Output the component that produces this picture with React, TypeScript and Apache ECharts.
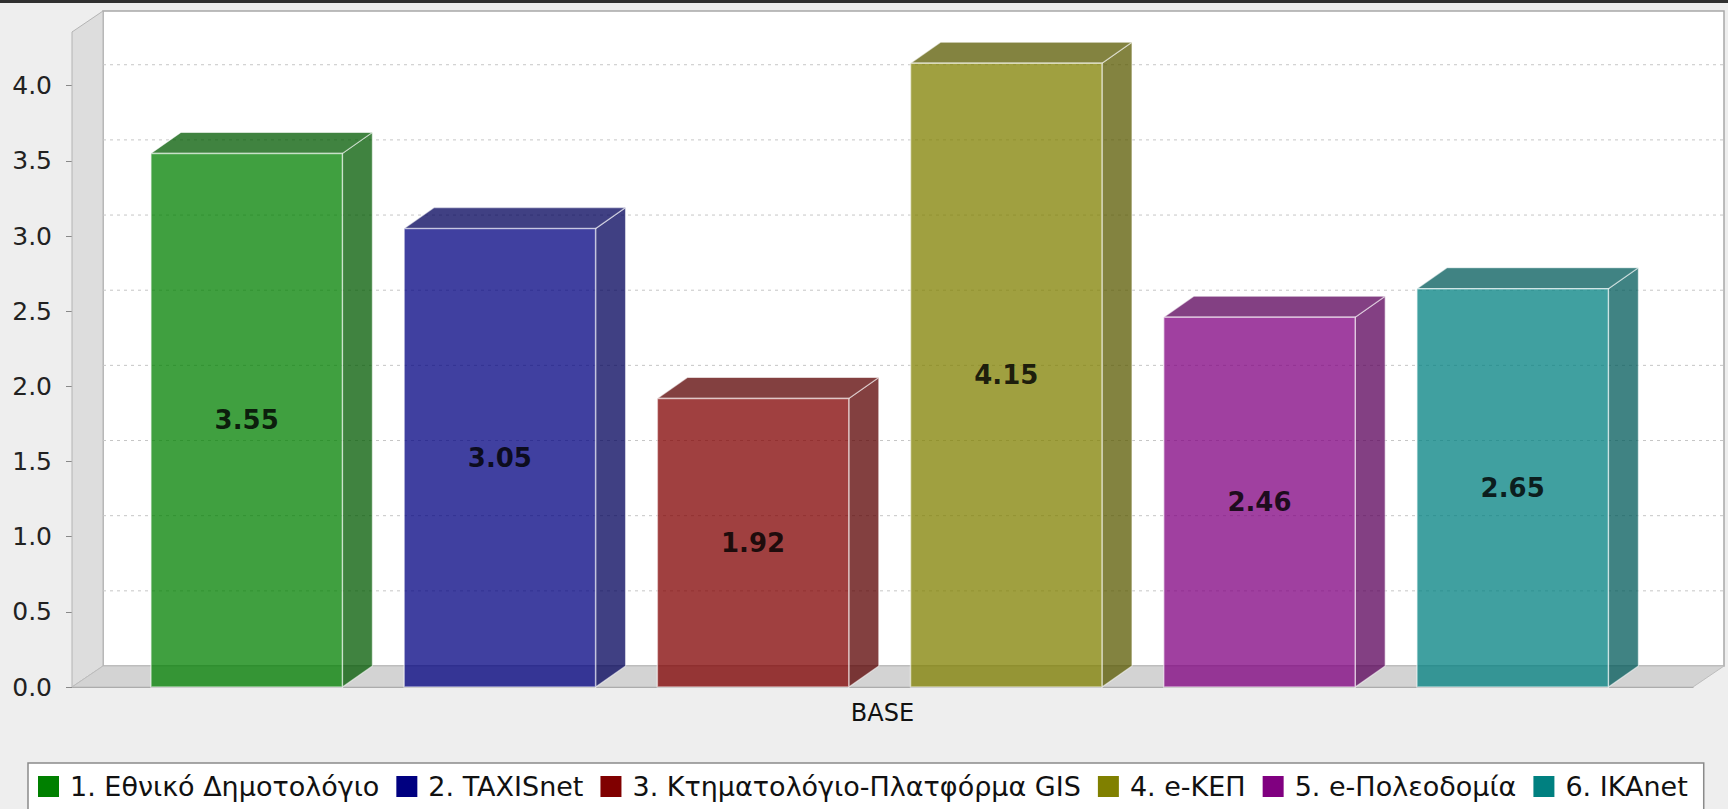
import React, { useEffect, useRef } from "react";
import * as echarts from "echarts";

// ---- data ----
const categories = ["BASE"];
const seriesNames = [
  "1. Εθνικό Δημοτολόγιο",
  "2. TAXISnet",
  "3. Κτηματολόγιο-Πλατφόρμα GIS",
  "4. e-ΚΕΠ",
  "5. e-Πολεοδομία",
  "6. IKAnet",
];
const seriesValues = [3.55, 3.05, 1.92, 4.15, 2.46, 2.65];
const seriesColors = ["#008000", "#000080", "#800000", "#808000", "#800080", "#008080"];
const yTicks = [0, 0.5, 1, 1.5, 2, 2.5, 3, 3.5, 4];
const gridValues = [0.5, 1, 1.5, 2, 2.5, 3, 3.5, 4];
const yMin = 0;
const yMax = 4.3575;

// ---- style constants ----
const BAR_DX = 30;
const BAR_DY = 21;
const WALL_DX = 31;
const WALL_DY = 21;
const FONT = '"DejaVu Sans", sans-serif';

function shade(hex: string, f: number, a: number) {
  const h = hex.replace("#", "");
  const r = Math.round(parseInt(h.slice(0, 2), 16) * f);
  const g = Math.round(parseInt(h.slice(2, 4), 16) * f);
  const b = Math.round(parseInt(h.slice(4, 6), 16) * f);
  return `rgba(${r},${g},${b},${a})`;
}

export default function App() {
  const ref = useRef<HTMLDivElement>(null);

  useEffect(() => {
    if (!ref.current) return;
    const chart = echarts.init(ref.current, null, { renderer: "svg" });

    const wallSeries: any = {
      type: "custom",
      name: "__walls",
      silent: true,
      z: 1,
      data: [[0, 0]],
      renderItem: (params: any) => {
        const cs = params.coordSys;
        const X0 = cs.x;
        const X1 = cs.x + cs.width;
        const Y0 = cs.y;
        const Y1 = cs.y + cs.height;
        return {
          type: "group",
          children: [
            {
              type: "rect",
              shape: { x: X0 + WALL_DX, y: Y0 - WALL_DY, width: X1 - X0, height: Y1 - Y0 },
              style: { fill: "#ffffff", stroke: "#a8a8a8", lineWidth: 1.5 },
            },
            {
              type: "polygon",
              shape: {
                points: [
                  [X0, Y0],
                  [X0 + WALL_DX, Y0 - WALL_DY],
                  [X0 + WALL_DX, Y1 - WALL_DY],
                  [X0, Y1],
                ],
              },
              style: { fill: "#dddddd", stroke: "#b4b4b4", lineWidth: 1 },
            },
            {
              type: "polygon",
              shape: {
                points: [
                  [X0, Y1],
                  [X0 + WALL_DX, Y1 - WALL_DY],
                  [X1 + WALL_DX, Y1 - WALL_DY],
                  [X1, Y1],
                ],
              },
              style: { fill: "#d3d3d3", stroke: "#bdbdbd", lineWidth: 1 },
            },
          ],
        };
      },
    };

    const gridSeries: any = {
      type: "custom",
      name: "__grid",
      silent: true,
      z: 2,
      data: gridValues.map((v) => [0, v]),
      renderItem: (params: any, api: any) => {
        const cs = params.coordSys;
        const y = api.coord([0, api.value(1)])[1] - WALL_DY;
        return {
          type: "line",
          shape: { x1: cs.x + WALL_DX, y1: y, x2: cs.x + cs.width + WALL_DX, y2: y },
          style: { stroke: "#c6c6c6", lineWidth: 1, lineDash: [3, 4] },
        };
      },
    };

    const barSeries = seriesNames.map((name, i) => ({
      type: "custom",
      name,
      silent: true,
      z: 5,
      itemStyle: { color: seriesColors[i] },
      data: [[0, seriesValues[i]]],
      renderItem: (params: any, api: any) => {
        const catW = api.size([1, 0])[0];
        const base = api.coord([api.value(0), 0]);
        const topP = api.coord([api.value(0), api.value(1)]);
        const margin = catW * 0.0487;
        const bw = catW * 0.1181;
        const pitch = catW * 0.1562;
        const x = base[0] - catW / 2 + margin + i * pitch;
        const y0 = base[1];
        const y1 = topP[1];
        const c = seriesColors[i];
        const edge = "rgba(255,255,255,0.55)";
        return {
          type: "group",
          children: [
            {
              type: "polygon",
              shape: {
                points: [
                  [x + bw, y1],
                  [x + bw + BAR_DX, y1 - BAR_DY],
                  [x + bw + BAR_DX, y0 - BAR_DY],
                  [x + bw, y0],
                ],
              },
              style: { fill: shade(c, 0.7, 0.75), stroke: edge, lineWidth: 1.2 },
            },
            {
              type: "polygon",
              shape: {
                points: [
                  [x, y1],
                  [x + BAR_DX, y1 - BAR_DY],
                  [x + bw + BAR_DX, y1 - BAR_DY],
                  [x + bw, y1],
                ],
              },
              style: { fill: shade(c, 0.7, 0.75), stroke: edge, lineWidth: 1.2 },
            },
            {
              type: "rect",
              shape: { x, y: y1, width: bw, height: y0 - y1 },
              style: { fill: shade(c, 1, 0.75), stroke: edge, lineWidth: 1.5 },
            },
            {
              type: "text",
              x: x + bw / 2,
              y: (y0 + y1) / 2,
              style: {
                text: api.value(1).toFixed(2),
                fill: "rgba(0,0,0,0.82)",
                fontSize: 26,
                fontWeight: "bold",
                fontFamily: FONT,
                align: "center",
                verticalAlign: "middle",
              },
            },
          ],
        };
      },
    }));

    chart.setOption({
      animation: false,
      backgroundColor: "#eeeeee",
      graphic: [
        { type: "rect", left: 0, top: 0, shape: { width: 1728, height: 3 }, style: { fill: "#303030" } },
      ],
      grid: { left: 72, right: 35, top: 32, bottom: 122, containLabel: false },
      legend: {
        data: seriesNames,
        left: 28,
        top: 763,
        icon: "rect",
        itemWidth: 21,
        itemHeight: 21,
        itemGap: 17,
        selectedMode: false,
        padding: [10, 16, 10, 10],
        backgroundColor: "#ffffff",
        borderColor: "#8a8a8a",
        borderWidth: 1.5,
        textStyle: { fontSize: 27, lineHeight: 24, fontFamily: FONT, color: "#111111", padding: [0, 0, 0, 6] },
      },
      xAxis: {
        type: "category",
        data: categories,
        axisLine: { show: true, lineStyle: { color: "#9a9a9a" } },
        axisTick: { show: false },
        axisLabel: { fontSize: 24, color: "#111111", margin: 14, fontFamily: FONT },
        splitLine: { show: false },
      },
      yAxis: {
        type: "value",
        min: yMin,
        max: yMax,
        axisLine: { show: true, lineStyle: { color: "#9a9a9a" } },
        axisTick: { show: true, length: 6, lineStyle: { color: "#888888" }, customValues: yTicks },
        axisLabel: {
          fontSize: 25,
          color: "#222222",
          margin: 20,
          fontFamily: FONT,
          customValues: yTicks,
          formatter: (v: number) => v.toFixed(1),
        },
        splitLine: { show: false },
      },
      series: [wallSeries, gridSeries, ...barSeries],
    });

    return () => chart.dispose();
  }, []);

  return (
    <div
      ref={ref}
      style={{ position: "fixed", left: 0, top: 0, width: 1728, height: 809 }}
    />
  );
}
